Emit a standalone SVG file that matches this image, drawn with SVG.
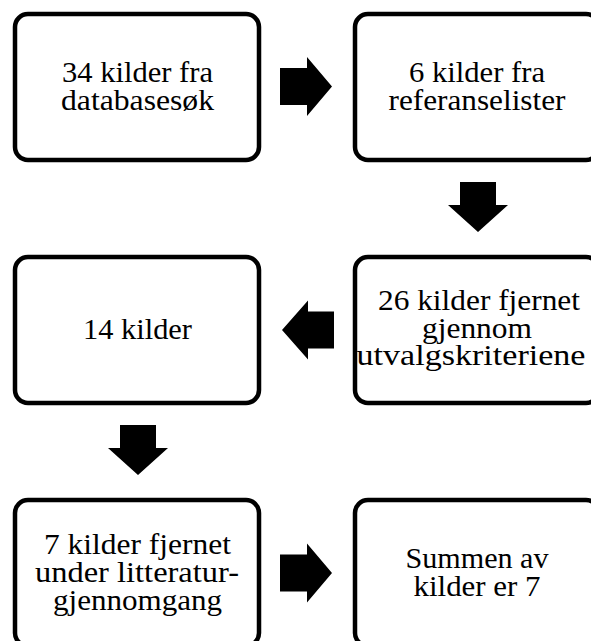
<svg xmlns="http://www.w3.org/2000/svg" width="591" height="641" viewBox="0 0 591 641">
<style>
.box{fill:#fff;stroke:#000;stroke-width:4.5}
.t{font-family:"Liberation Serif","Times New Roman",serif;font-size:30px;fill:#000;text-anchor:middle}
.arr{fill:#000;stroke:none}
</style>
<rect width="591" height="641" fill="#fff"/>
<g id="connectors">
<polygon class="arr" points="280,68 307,68 307,57 332,86.5 307,116 307,105 280,105"/>
<polygon class="arr" points="460,182 496,182 496,205 508,205 478,232 448,205 460,205"/>
<polygon class="arr" points="334,311.5 308,311.5 308,300.5 282,330 308,359.5 308,348.5 334,348.5"/>
<polygon class="arr" points="120,425 156,425 156,448 168,448 138,475 108,448 120,448"/>
<polygon class="arr" points="280,554.5 307,554.5 307,543.5 332,573 307,602.5 307,591.5 280,591.5"/>
</g>
<g id="node1">
<rect class="box" x="15" y="14" width="244" height="146" rx="13"/>
<text class="t" x="137.5" y="82" textLength="151" lengthAdjust="spacingAndGlyphs">34 kilder fra</text>
<text class="t" x="137.5" y="110" textLength="153" lengthAdjust="spacingAndGlyphs">databasesøk</text>
</g>
<g id="node2">
<rect class="box" x="355" y="14" width="244" height="146" rx="13"/>
<text class="t" x="477" y="82" textLength="136" lengthAdjust="spacingAndGlyphs">6 kilder fra</text>
<text class="t" x="477" y="110" textLength="177" lengthAdjust="spacingAndGlyphs">referanselister</text>
</g>
<g id="node3">
<rect class="box" x="15" y="257" width="244" height="146" rx="13"/>
<text class="t" x="137.5" y="339" textLength="109" lengthAdjust="spacingAndGlyphs">14 kilder</text>
</g>
<g id="node4">
<rect class="box" x="355" y="257" width="244" height="146" rx="13"/>
<text class="t" x="479" y="310" textLength="202" lengthAdjust="spacingAndGlyphs">26 kilder fjernet</text>
<text class="t" x="477" y="337.5" textLength="110" lengthAdjust="spacingAndGlyphs">gjennom</text>
<text class="t" x="471" y="365" textLength="229" lengthAdjust="spacingAndGlyphs">utvalgskriteriene</text>
</g>
<g id="node5">
<rect class="box" x="15" y="500" width="244" height="146" rx="13"/>
<text class="t" x="137.5" y="554" textLength="187" lengthAdjust="spacingAndGlyphs">7 kilder fjernet</text>
<text class="t" x="137" y="582" textLength="204" lengthAdjust="spacingAndGlyphs">under litteratur-</text>
<text class="t" x="137.5" y="610" textLength="169" lengthAdjust="spacingAndGlyphs">gjennomgang</text>
</g>
<g id="node6">
<rect class="box" x="355" y="500" width="244" height="146" rx="13"/>
<text class="t" x="477" y="568" textLength="143" lengthAdjust="spacingAndGlyphs">Summen av</text>
<text class="t" x="477" y="596" textLength="127" lengthAdjust="spacingAndGlyphs">kilder er 7</text>
</g>
</svg>
